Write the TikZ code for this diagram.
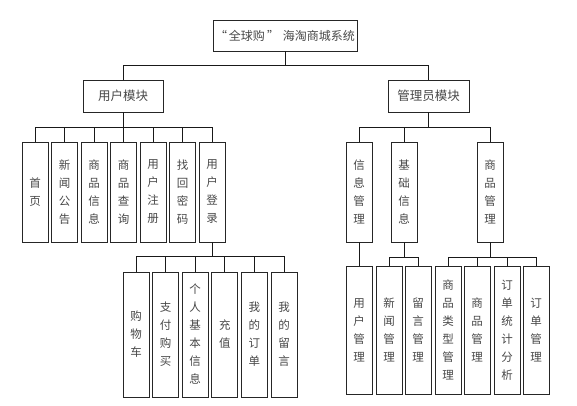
\documentclass[tikz,border=0pt]{standalone}
\usepackage{fontspec}
\newfontfamily\cjk{Noto Sans CJK SC}
\begin{document}
\begin{tikzpicture}[x=1pt,y=-1pt,
  box/.style={draw=black!85, line width=0.8pt, inner sep=0pt, align=center, text=black!72,
    font=\cjk\fontsize{11.5}{18}\selectfont},
  vbox/.style={box, minimum width=26pt},
  conn/.style={draw=black!90, line width=0.8pt}]
\useasboundingbox (0,0) rectangle (577,405);
% top levels
\node[box, minimum width=144pt, minimum height=31pt, font=\cjk\fontsize{12}{14}\selectfont] (top) at (285,35.5) {“\hspace{2pt}全球购\hspace{2pt}”\hspace{4pt}海淘商城系统};
\node[box, minimum width=80pt, minimum height=32pt, font=\cjk\fontsize{12.5}{14}\selectfont] (um) at (123,96) {用户模块};
\node[box, minimum width=81pt, minimum height=32pt, font=\cjk\fontsize{12.5}{14}\selectfont] (am) at (428.5,96) {管理员模块};
% user children
\node[vbox, minimum height=100pt] (u1) at (35,192) {首\\页};
\node[vbox, minimum height=100pt] (u2) at (64.5,192) {新\\闻\\公\\告};
\node[vbox, minimum height=100pt] (u3) at (94,192) {商\\品\\信\\息};
\node[vbox, minimum height=100pt] (u4) at (123.5,192) {商\\品\\查\\询};
\node[vbox, minimum height=100pt] (u5) at (153,192) {用\\户\\注\\册};
\node[vbox, minimum height=100pt] (u6) at (182.5,192) {找\\回\\密\\码};
\node[vbox, minimum height=100pt] (u7) at (212,192) {用\\户\\登\\录};
% login children
\node[vbox, minimum height=125pt] (l1) at (136,334.5) {购\\物\\车};
\node[vbox, minimum height=125pt] (l2) at (165.6,334.5) {支\\付\\购\\买};
\node[vbox, minimum height=125pt] (l3) at (195.2,334.5) {个\\人\\基\\本\\信\\息};
\node[vbox, minimum height=125pt] (l4) at (224.8,334.5) {充\\值};
\node[vbox, minimum height=125pt] (l5) at (254.4,334.5) {我\\的\\订\\单};
\node[vbox, minimum height=125pt] (l6) at (284,334.5) {我\\的\\留\\言};
% admin children
\node[vbox, minimum height=100pt] (a1) at (359,192) {信\\息\\管\\理};
\node[vbox, minimum height=100pt] (a2) at (404,192) {基\\础\\信\\息};
\node[vbox, minimum height=100pt] (a3) at (490,192) {商\\品\\管\\理};
% admin grandchildren
\node[vbox, minimum height=128pt] (g1) at (359,330) {用\\户\\管\\理};
\node[vbox, minimum height=128pt] (g2) at (389,330) {新\\闻\\管\\理};
\node[vbox, minimum height=128pt] (g3) at (418,330) {留\\言\\管\\理};
\node[vbox, minimum height=128pt] (g4) at (448,330) {商\\品\\类\\型\\管\\理};
\node[vbox, minimum height=128pt] (g5) at (477,330) {商\\品\\管\\理};
\node[vbox, minimum height=128pt] (g6) at (507,330) {订\\单\\统\\计\\分\\析};
\node[vbox, minimum height=128pt] (g7) at (536,330) {订\\单\\管\\理};
% bar levels
\coordinate (b0) at (0,65);
\coordinate (b1) at (0,127);
\coordinate (b2) at (0,256);
\coordinate (b3) at (0,257.5);
% connectors
\draw[conn] (top.south) -- (top.south |- b0);
\draw[conn] (um.north) -- (um.north |- b0) -- (am.north |- b0) -- (am.north);
\draw[conn] (um.south) -- (um.south |- b1);
\draw[conn] (u1.north) -- (u1.north |- b1) -- (u7.north |- b1) -- (u7.north);
\foreach \n in {u2,u3,u4,u5,u6} \draw[conn] (\n.north) -- (\n.north |- b1);
\draw[conn] (am.south) -- (am.south |- b1);
\draw[conn] (a1.north |- b1) -- (a3.north |- b1);
\foreach \n in {a1,a2,a3} \draw[conn] (\n.north) -- (\n.north |- b1);
\draw[conn] (u7.south) -- (u7.south |- b2);
\draw[conn] (l1.north) -- (l1.north |- b2) -- (l6.north |- b2) -- (l6.north);
\foreach \n in {l2,l3,l4,l5} \draw[conn] (\n.north) -- (\n.north |- b2);
\draw[conn] (a1.south) -- (g1.north);
\draw[conn] (a2.south) -- (a2.south |- b3);
\draw[conn] (g2.north) -- (g2.north |- b3) -- (g3.north |- b3) -- (g3.north);
\draw[conn] (a3.south) -- (a3.south |- b3);
\draw[conn] (g4.north) -- (g4.north |- b3) -- (g7.north |- b3) -- (g7.north);
\foreach \n in {g5,g6} \draw[conn] (\n.north) -- (\n.north |- b3);
\end{tikzpicture}
\end{document}
